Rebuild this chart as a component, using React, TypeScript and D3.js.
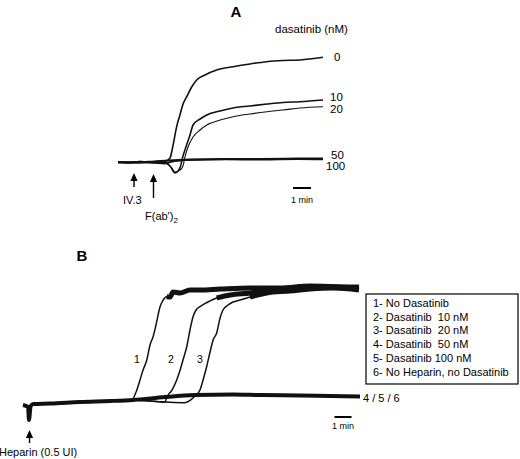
import React from "react";
import * as d3 from "d3";

type P = [number, number];

// Panel A: time (min) vs aggregation signal (%), dasatinib concentrations
const concA = ["0", "10", "20", "50", "100"];
const traceA0: P[] = [[0,-1],[0.67,-1.4],[1.22,-0.5],[1.78,-1],[2.33,-0.5],[2.67,0],[2.89,2.9],[3.06,15.4],[3.26,33],[3.44,44.2],[3.62,55],[3.82,61.8],[4.06,70.2],[4.37,77.9],[4.83,82.7],[5.48,87.5],[6.39,90.6],[7.33,93.3],[8.26,95.5],[9.17,96.6],[10.11,97.1],[11.39,99.7]];
const traceA10: P[] = [[0,-1],[0.67,-1.4],[1.22,-0.5],[1.78,-1.4],[2.33,-1],[2.7,-2],[2.9,-5],[3.17,-11.5],[3.44,-6.7],[3.61,4.8],[3.78,13.8],[4,25],[4.17,34.6],[4.56,40.4],[4.93,44.2],[5.67,48.1],[6.39,51],[7.33,52.9],[8.28,54.8],[9.17,56.3],[10.11,57],[11.39,58.7]];
const traceA20: P[] = [[0,-1.2],[0.67,-1],[1.22,-1.5],[1.78,-1],[2.33,-1.8],[2.7,-2.5],[2.95,-6],[3.17,-10.6],[3.44,-8.7],[3.61,-4.8],[3.72,3.9],[3.89,13.5],[4.17,23.1],[4.56,29.8],[4.93,34.6],[5.67,39.4],[6.39,42.6],[7.33,45.2],[8.28,47.4],[9.17,49],[10.11,51],[11.39,52.2]];
const traceA50: P[] = [[0,-1],[1,-1.5],[2,-0.5],[2.8,0.5],[4,1.4],[6,1.9],[8,1.9],[10,2.2],[11.39,2.4]];
const traceA100: P[] = [[0,-1.5],[1,-1],[2,-1.8],[2.6,-2.5],[2.9,-1],[4,1],[6,1.5],[8,1.4],[10,1.8],[11.39,1.5]];
const tracesA = [traceA0, traceA10, traceA20, traceA50, traceA100];
const widthsA = [1.6, 1.6, 1.1, 2.2, 1.8];

// Panel B: heparin-induced aggregation
const legendB = [
  "1- No Dasatinib",
  "2- Dasatinib  10 nM",
  "3- Dasatinib  20 nM",
  "4- Dasatinib  50 nM",
  "5- Dasatinib 100 nM",
  "6- No Heparin, no Dasatinib",
];
const traceB1: P[] = [[0,0],[0.3,-1],[0.35,-12.8],[0.45,-1],[0.59,0.9],[1.59,1.3],[3.35,2.6],[5.12,3.4],[6.39,4.3],[6.65,11.1],[6.88,21.4],[7.06,29.9],[7.28,38.5],[7.47,51.3],[7.65,58.4],[7.82,68.4],[8.06,84],[8.24,89.7],[8.45,92.6],[8.65,92.3],[8.82,96.6],[9.24,95.7],[9.82,98.3],[10.41,98.3],[11.59,99.1],[13.35,100],[15.12,100],[16.88,101.7],[18.65,100.9],[19.76,100]];
const traceB2: P[] = [[0,0],[0.3,-1],[0.35,-12.8],[0.45,-1],[0.59,0.9],[1.59,1.3],[3.35,2.6],[5.12,3.4],[6.47,4],[7.5,3.5],[8.35,2.6],[8.47,7.1],[8.76,12.8],[9.04,21.4],[9.24,29.9],[9.41,38.5],[9.63,49.8],[9.82,64.1],[10,75.5],[10.18,81.2],[10.41,84],[10.76,87.2],[11.39,91.5],[12.18,94],[13.35,95.7],[14.53,98.3],[16.29,99.1],[18.06,100.9],[19.76,100.9]];
const traceB3: P[] = [[0,0],[0.3,-1],[0.35,-12.8],[0.45,-1],[0.59,0.9],[1.59,1.3],[3.35,2.6],[5.12,3.4],[6.47,4],[8.35,2.6],[9.5,2],[10.12,7.7],[10.41,12.8],[10.59,21.4],[10.8,32.7],[11,45.3],[11.18,55.6],[11.39,61.5],[11.59,74.4],[11.76,81.2],[12.06,85.5],[12.35,88],[12.76,89.7],[13.35,92.3],[14.33,95.7],[15.71,97.4],[16.88,99.1],[18.24,100],[19.76,98.3]];
const traceBbase: P[] = [[0,0],[0.3,-1.7],[0.35,-12.8],[0.45,-1],[0.59,0.9],[1.59,1.3],[3.35,2.6],[5.12,3.4],[6.47,4.3],[8.35,6.8],[10.12,8.5],[12.35,9],[13.94,8.5],[16.29,8.1],[18.06,7.7],[19.82,7.3]];
const tracesB = [traceB1, traceB2, traceB3];
const curveLabelsB = ["1", "2", "3"];

const FONT = "'Liberation Sans', Arial, Helvetica, sans-serif";

export default function App() {
  const xA = d3.scaleLinear().domain([0, 11.5]).range([118, 325]);
  const yA = d3.scaleLinear().domain([0, 100]).range([161, 57]);
  const xB = d3.scaleLinear().domain([0, 19.76]).range([23, 359]);
  const yB = d3.scaleLinear().domain([0, 100]).range([405, 288]);

  const lineA = d3.line<P>().x(d => xA(d[0])).y(d => yA(d[1])).curve(d3.curveMonotoneX);
  const lineB = d3.line<P>().x(d => xB(d[0])).y(d => yB(d[1])).curve(d3.curveMonotoneX);

  const labelPosA: [number, number][] = [[334, 61], [330, 101], [330, 113], [331, 159], [326, 170]];
  const labelPosB: [number, number][] = [[134, 363], [168, 363], [197, 363]];

  const arrow = (x: number, tip: number, bottom: number) => (
    <g>
      <line x1={x} x2={x} y1={tip + 6} y2={bottom} stroke="#000" strokeWidth={1.4} />
      <path d={`M${x},${tip} L${x - 3.6},${tip + 8} L${x + 3.6},${tip + 8} Z`} fill="#000" />
    </g>
  );

  const minA = xA(1) - xA(0);
  const minB = xB(1) - xB(0);

  return (
    <svg width={520} height={459} style={{ position: "absolute", left: 0, top: 0, background: "#fff" }} fontFamily={FONT}>
      {/* Panel A */}
      <text x={236} y={17} fontSize={15} fontWeight="bold" textAnchor="middle">A</text>
      <text x={275} y={33} fontSize={11.5}>dasatinib (nM)</text>
      {tracesA.map((t, i) => (
        <path key={i} d={lineA(t) || ""} fill="none" stroke="#111" strokeWidth={widthsA[i]} strokeLinejoin="round" />
      ))}
      {concA.map((c, i) => (
        <text key={c} x={labelPosA[i][0]} y={labelPosA[i][1]} fontSize={11.5}>{c}</text>
      ))}
      {arrow(134, 173, 187)}
      <text x={123} y={204} fontSize={11}>IV.3</text>
      {arrow(153.5, 174, 198)}
      <text x={145} y={220} fontSize={11}>
        F(ab')<tspan fontSize={8} dy={3}>2</tspan>
      </text>
      <line x1={302 - minA / 2} x2={302 + minA / 2} y1={188} y2={188} stroke="#000" strokeWidth={2} />
      <text x={302} y={203} fontSize={9} textAnchor="middle">1 min</text>

      {/* Panel B */}
      <text x={82} y={261} fontSize={15} fontWeight="bold" textAnchor="middle">B</text>
      <path d={lineB(traceBbase) || ""} fill="none" stroke="#111" strokeWidth={4} strokeLinejoin="round" />
      {tracesB.map((t, i) => (
        <g key={i}>
          <path d={lineB(t) || ""} fill="none" stroke="#111" strokeWidth={1.5} strokeLinejoin="round" />
          <path d={lineB(t.filter(d => d[1] > 90)) || ""} fill="none" stroke="#111" strokeWidth={5} strokeLinejoin="round" strokeLinecap="butt" />
        </g>
      ))}
      {curveLabelsB.map((c, i) => (
        <text key={c} x={labelPosB[i][0]} y={labelPosB[i][1]} fontSize={10.5}>{c}</text>
      ))}
      <text x={363} y={402} fontSize={11}>4 / 5 / 6</text>
      <rect x={366} y={294} width={152} height={90} fill="#fff" stroke="#000" strokeWidth={1.2} />
      {legendB.map((s, i) => (
        <text key={s} x={373} y={307 + i * 13.7} fontSize={11} style={{ whiteSpace: "pre" }}>{s}</text>
      ))}
      <line x1={343 - minB / 2} x2={343 + minB / 2} y1={417} y2={417} stroke="#000" strokeWidth={2} />
      <text x={343} y={429} fontSize={9} textAnchor="middle">1 min</text>
      {arrow(29.5, 430, 443)}
      <text x={-1} y={456} fontSize={11}>Heparin (0.5 UI)</text>
    </svg>
  );
}
